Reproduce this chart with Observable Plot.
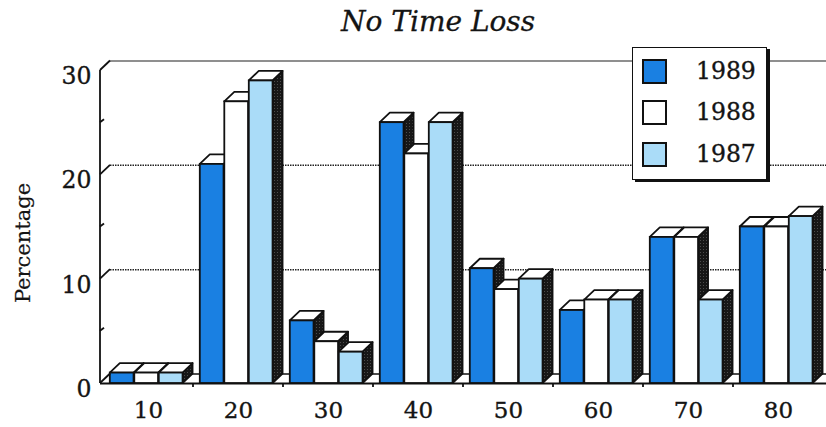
<!DOCTYPE html>
<html>
<head>
<meta charset="utf-8">
<script src="https://cdn.jsdelivr.net/npm/d3@7"></script>
<script src="https://cdn.jsdelivr.net/npm/@observablehq/plot@0.6"></script>
<style>
  html, body { margin: 0; padding: 0; background: #fff; }
  #wrap { position: relative; width: 826px; height: 427px; overflow: hidden; font-family: "DejaVu Serif", serif; color: #141414; }
  #title { height: 44px; line-height: 44px; font-style: italic; font-size: 28px; padding-left: 341px; white-space: nowrap; -webkit-text-stroke: 0.3px #141414; }
  #ylabel { position: absolute; left: 23px; top: 243px; transform: translate(-50%, -50%) rotate(-90deg); font-size: 21px; white-space: nowrap; -webkit-text-stroke: 0.2px #141414; }
  #legend { position: absolute; left: 632px; top: 47px; width: 135px; height: 133px; box-sizing: border-box; border: 1.5px solid #111; box-shadow: 3px 2px 0 #111; background: #fff; }
  #legend .sw { position: absolute; left: 9px; width: 25px; height: 25px; box-sizing: border-box; border: 2px solid #111; }
  #legend .lb { position: absolute; left: 63px; font-size: 23.5px; line-height: 25px; -webkit-text-stroke: 0.35px #141414; }
  svg { display: block; }
</style>
</head>
<body>
<div id="wrap">
  <div id="title">No Time Loss</div>
  <div id="ylabel">Percentage</div>
  <div id="chart"></div>
  <div id="legend"></div>
</div>
<script>
// Share of cases with no time loss, by age group and year
const ages = ["10", "20", "30", "40", "50", "60", "70", "80"];
const years = ["1989", "1988", "1987"];
const v1989 = [1, 21, 6, 25, 11, 7, 14, 15];
const v1988 = [1, 27, 4, 22, 9, 8, 14, 15];
const v1987 = [1, 29, 3, 25, 10, 8, 8, 16];
const yTicks = [0, 10, 20, 30];
const yMinor = [5, 15, 25];
const colors = ["#1a80e2", "#ffffff", "#aadcf8"];

const seriesValues = [v1989, v1988, v1987];
const rows = ages.flatMap((age, i) => years.map((year, j) => ({ age, year, value: seriesValues[j][i] })));

// depth of the oblique 3-D projection, in pixels
const DX = 10, DY = 9.5;

// layout of the three bars inside each age band
const width = 826, marginLeft = 100, marginRight = 0;
const band = (width - marginLeft - marginRight) / ages.length;
const barW = 24.5, lead = 6.8;

const chart = Plot.plot({
  width,
  height: 383,
  marginLeft,
  marginRight,
  marginTop: 26,
  marginBottom: 44,
  style: { fontFamily: "DejaVu Serif, serif", fontSize: "23px", color: "#141414", background: "transparent" },
  x: { domain: ages, padding: 0, tickSize: 0, tickPadding: 18, label: null },
  y: { domain: [0, 30], axis: null },
  marks: [
    // back wall: grid lines and floor edge, shifted by the depth
    Plot.ruleY([0], { stroke: "#111", strokeWidth: 1.4, dx: DX, dy: -DY }),
    Plot.ruleY([10, 20], { stroke: "#222", strokeWidth: 1.5, strokeDasharray: "1.5 1", dx: DX, dy: -DY }),
    Plot.ruleY([30], { stroke: "#6a6a6a", strokeWidth: 1.3, dx: DX, dy: -DY }),
    // front edge of the floor
    Plot.ruleY([0], { stroke: "#111", strokeWidth: 1.8 }),
    // front faces of the bars, one mark per year
    ...years.map((year, j) => Plot.barY(rows.filter(d => d.year === year), {
      x: "age",
      y: "value",
      fill: colors[j],
      stroke: "#111",
      strokeWidth: 1.8,
      insetLeft: lead + j * barW,
      insetRight: band - lead - (j + 1) * barW
    })),
    // y tick labels
    Plot.text(yTicks, { y: d => d, frameAnchor: "left", dx: -9, dy: 6, textAnchor: "end", fontSize: 23.5, fill: "#141414", stroke: "#141414", strokeWidth: 0.35 })
  ]
});

document.getElementById("chart").appendChild(chart);

// slightly heavier x tick labels
d3.select(chart).selectAll('[aria-label^="x-axis"] text').attr("stroke", "#141414").attr("stroke-width", 0.35).attr("fill", "#141414");

// ---- 3-D faces: a shaded side and a white top behind each front face ----
const NS = "http://www.w3.org/2000/svg";
const defs = document.createElementNS(NS, "defs");
defs.innerHTML = `<pattern id="stipple" width="3" height="3" patternUnits="userSpaceOnUse">
  <rect width="3" height="3" fill="#171717"></rect><rect x="1" y="1" width="1" height="1" fill="#4c4c4c"></rect></pattern>`;
chart.insertBefore(defs, chart.firstChild);

function poly(points, fill) {
  const p = document.createElementNS(NS, "path");
  p.setAttribute("d", "M" + points.map(q => q.join(",")).join("L") + "Z");
  p.setAttribute("fill", fill);
  p.setAttribute("stroke", "#111");
  p.setAttribute("stroke-width", "1.8");
  p.setAttribute("stroke-linejoin", "round");
  return p;
}

chart.querySelectorAll('g[aria-label="bar"]').forEach(g => {
  g.querySelectorAll("rect").forEach(r => {
    const x = +r.getAttribute("x"), y = +r.getAttribute("y");
    const w = +r.getAttribute("width"), h = +r.getAttribute("height");
    const x2 = x + w, yb = y + h;
    g.insertBefore(poly([[x2, y], [x2 + DX, y - DY], [x2 + DX, yb - DY], [x2, yb]], "url(#stipple)"), r);
    g.insertBefore(poly([[x, y], [x + DX, y - DY], [x2 + DX, y - DY], [x2, y]], "#ffffff"), r);
  });
});

// ---- left wall: axis line, oblique ticks, and band separators on the floor ----
function scaleOf(name) {
  const s = chart.scale(name);
  if (s && typeof s.apply === "function") return s;
  const f = name === "x"
    ? d3.scaleBand(s.domain, s.range).padding(0)
    : d3.scaleLinear(s.domain, s.range);
  return { apply: f, bandwidth: f.bandwidth ? f.bandwidth() : 0, range: s.range };
}
const ys = scaleOf("y");
const xs = scaleOf("x");

const wall = d3.select(chart).append("g").attr("stroke", "#111").attr("stroke-width", 1.8).attr("fill", "none");
const x0 = marginLeft;
wall.append("line").attr("x1", x0).attr("x2", x0).attr("y1", ys.apply(0)).attr("y2", ys.apply(30));
for (const v of yTicks) {
  wall.append("line").attr("x1", x0).attr("y1", ys.apply(v)).attr("x2", x0 + DX).attr("y2", ys.apply(v) - DY);
}
for (const v of yMinor) {
  wall.append("line").attr("x1", x0).attr("y1", ys.apply(v)).attr("x2", x0 + 4).attr("y2", ys.apply(v) - 3);
}
for (const a of ages.slice(1)) {
  const bx = xs.apply(a);
  wall.append("line").attr("x1", bx).attr("x2", bx).attr("y1", ys.apply(0)).attr("y2", ys.apply(0) + 4);
}

// ---- legend ----
const legend = document.getElementById("legend");
const tops = [11, 52, 94];
years.forEach((year, j) => {
  const sw = document.createElement("div");
  sw.className = "sw";
  sw.style.top = tops[j] + "px";
  sw.style.background = colors[j];
  const lb = document.createElement("div");
  lb.className = "lb";
  lb.style.top = tops[j] + "px";
  lb.textContent = year;
  legend.appendChild(sw);
  legend.appendChild(lb);
});
</script>
</body>
</html>
